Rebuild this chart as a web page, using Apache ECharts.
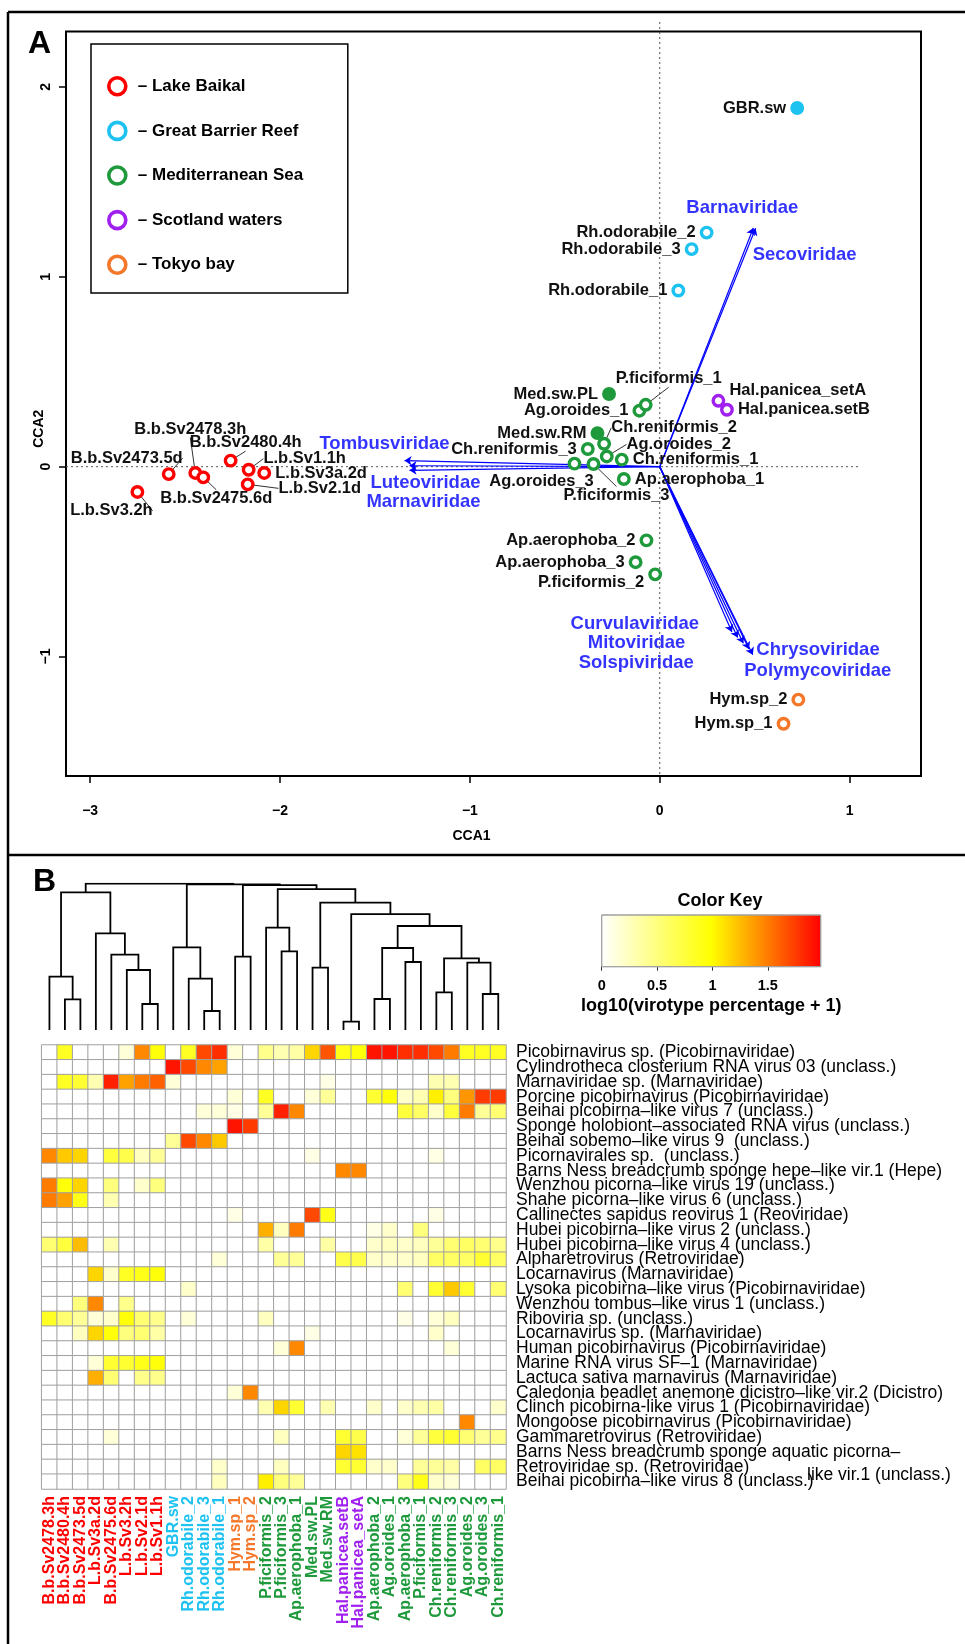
<!DOCTYPE html>
<html><head><meta charset="utf-8">
<script src="https://cdn.jsdelivr.net/npm/echarts@6/dist/echarts.min.js"></script>
<style>html,body{margin:0;padding:0;background:#fff}#c{width:965px;height:1644px}</style>
</head><body><div id="c"></div>
<script>
// ---------------- DATA ----------------
const siteNames = ['Lake Baikal','Great Barrier Reef','Mediterranean Sea','Scotland waters','Tokyo bay'];
const siteColors = ['#FF0000','#1DC2F0','#1E9A3C','#A020F0','#F5782A'];

// samples (same order as heatmap columns)
const sampleNames = ['B.b.Sv2478.3h','B.b.Sv2480.4h','B.b.Sv2473.5d','L.b.Sv3a.2d','B.b.Sv2475.6d','L.b.Sv3.2h','L.b.Sv2.1d','L.b.Sv1.1h','GBR.sw','Rh.odorabile_2','Rh.odorabile_3','Rh.odorabile_1','Hym.sp_1','Hym.sp_2','P.ficiformis_2','P.ficiformis_3','Ap.aerophoba_1','Med.sw.PL','Med.sw.RM','Hal.panicea.setB','Hal.panicea_setA','Ap.aerophoba_2','Ag.oroides_1','Ap.aerophoba_3','P.ficiformis_1','Ch.reniformis_2','Ch.reniformis_3','Ag.oroides_2','Ag.oroides_3','Ch.reniformis_1'];
const sampleSite = [0,0,0,0,0,0,0,0,1,1,1,1,4,4,2,2,2,2,2,3,3,2,2,2,2,2,2,2,2,2];
const sampleFilled = [0,0,0,0,0,0,0,0,1,0,0,0,0,0,0,0,0,1,1,0,0,0,0,0,0,0,0,0,0,0];
const sampleCCA1 = [-2.446,-2.260,-2.586,-2.083,-2.404,-2.751,-2.170,-2.165,0.724,0.247,0.168,0.098,0.652,0.730,-0.024,-0.349,-0.189,-0.267,-0.328,0.354,0.309,-0.070,-0.107,-0.127,-0.074,-0.293,-0.379,-0.279,-0.449,-0.200];
const sampleCCA2 = [-0.033,0.032,-0.039,-0.033,-0.056,-0.133,-0.093,-0.016,1.889,1.233,1.146,0.928,-1.354,-1.227,-0.567,0.014,-0.065,0.383,0.177,0.300,0.347,-0.388,0.295,-0.503,0.326,0.121,0.093,0.054,0.016,0.037];

// fitted family vectors
const familyNames = ['Barnaviridae','Secoviridae','Tombusviridae','Luteoviridae','Marnaviridae','Curvulaviridae','Mitoviridae','Solspiviridae','Chrysoviridae','Polymycoviridae'];
const familyCCA1 = [0.493,0.505,-1.344,-1.318,-1.318,0.380,0.410,0.440,0.470,0.490];
const familyCCA2 = [1.257,1.256,0.032,0.005,-0.019,-0.870,-0.900,-0.930,-0.960,-0.990];

const xTicksA = [-3,-2,-1,0,1];
const yTicksA = [-1,0,1,2];

// heatmap rows
const virusNames = [
 'Picobirnavirus sp. (Picobirnaviridae)',
 'Cylindrotheca closterium RNA virus 03 (unclass.)',
 'Marnaviridae sp. (Marnaviridae)',
 'Porcine picobirnavirus (Picobirnaviridae)',
 'Beihai picobirna\u2013like virus 7 (unclass.)',
 'Sponge holobiont\u2013associated RNA virus (unclass.)',
 'Beihai sobemo\u2013like virus 9  (unclass.)',
 'Picornavirales sp.  (unclass.)',
 'Barns Ness breadcrumb sponge hepe\u2013like vir.1 (Hepe)',
 'Wenzhou picorna\u2013like virus 19 (unclass.)',
 'Shahe picorna\u2013like virus 6 (unclass.)',
 'Callinectes sapidus reovirus 1 (Reoviridae)',
 'Hubei picobirna\u2013like virus 2 (unclass.)',
 'Hubei picobirna\u2013like virus 4 (unclass.)',
 'Alpharetrovirus (Retroviridae)',
 'Locarnavirus (Marnaviridae)',
 'Lysoka picobirna\u2013like virus (Picobirnaviridae)',
 'Wenzhou tombus\u2013like virus 1 (unclass.)',
 'Riboviria sp. (unclass.)',
 'Locarnavirus sp. (Marnaviridae)',
 'Human picobirnavirus (Picobirnaviridae)',
 'Marine RNA virus SF\u20131 (Marnaviridae)',
 'Lactuca sativa marnavirus (Marnaviridae)',
 'Caledonia beadlet anemone dicistro\u2013like vir.2 (Dicistro)',
 'Clinch picobirna-like virus 1 (Picobirnaviridae)',
 'Mongoose picobirnavirus (Picobirnaviridae)',
 'Gammaretrovirus (Retroviridae)',
 'Barns Ness breadcrumb sponge aquatic picorna\u2013\nlike vir.1 (unclass.)',
 'Retroviridae sp. (Retroviridae)',
 'Beihai picobirna\u2013like virus 8 (unclass.)'
];
// log10(virotype percentage + 1), one row per virus, columns as sampleNames
const heatRows = [
 [0,.85,0,0,0,.15,1.45,.95,0,.85,1.7,1.8,.15,0,.45,.3,.35,1.15,1.65,.9,.95,1.9,1.9,1.8,1.8,1.7,1.5,.85,.85,.85],
 [0,0,0,0,0,0,0,0,1.9,1.7,1.45,1.35,0,0,0,0,0,0,0,0,0,0,0,0,0,0,0,0,0,0],
 [0,.85,.8,.3,1.85,1.35,1.5,1.6,.15,0,0,0,0,0,0,0,0,0,.1,0,0,0,0,0,0,.3,.3,0,0,0],
 [0,0,0,0,0,0,0,0,0,0,0,0,.15,0,.85,0,0,.15,.4,0,0,.8,.95,.2,.3,1.05,.5,1.4,1.75,1.75],
 [0,0,0,0,0,0,0,0,0,0,.15,.15,.1,0,.4,1.85,1.45,0,0,0,0,0,0,.75,.6,.2,.75,1.5,.4,.55],
 [0,0,0,0,0,0,0,0,0,0,0,0,1.9,1.75,0,0,0,0,0,0,0,0,0,0,0,0,0,0,0,0],
 [0,0,0,0,0,0,0,0,.4,1.7,1.45,1.2,0,0,0,0,0,0,0,0,0,0,0,0,0,0,0,0,0,0],
 [1.45,1.2,1.15,0,.75,.7,.25,.4,0,0,0,0,0,0,0,0,0,.1,0,0,0,0,0,0,0,.1,0,0,0,0],
 [0,0,0,0,0,0,0,0,0,0,0,0,0,0,0,0,0,0,0,1.45,1.45,0,0,0,0,0,0,0,0,0],
 [1.5,.95,1.15,0,.5,0,.2,.5,0,0,0,0,0,0,0,0,0,0,0,0,0,0,0,0,0,0,0,0,0,0],
 [1.5,1.35,.9,0,.3,0,0,0,0,0,0,0,0,0,0,0,0,0,0,0,0,0,0,0,0,0,0,0,0,0],
 [0,0,0,0,0,0,0,0,0,0,0,0,.1,0,0,0,0,1.7,.9,0,0,0,0,0,0,.1,0,0,0,0],
 [0,0,0,0,0,0,0,0,0,0,0,0,0,0,1.3,.25,1.5,0,0,0,0,.1,.2,0,.5,0,0,0,0,0],
 [.55,.75,1.25,0,.3,0,0,0,0,0,0,0,0,0,.35,0,0,0,.35,0,0,.2,.25,.2,.25,.4,.55,.6,.55,.45],
 [0,0,0,0,0,0,0,0,0,0,0,.15,0,0,0,.4,.4,0,0,.7,.7,.2,.2,.2,.25,.6,.6,.6,.8,.6],
 [0,0,0,1.15,.2,.85,.9,.95,0,0,0,0,0,0,0,0,0,0,0,0,0,0,0,0,0,0,0,0,0,0],
 [0,0,0,0,0,0,0,0,0,.2,0,0,0,0,0,0,0,0,0,0,0,0,0,.55,0,.8,1.2,.8,0,.55],
 [0,0,.5,1.45,0,.45,0,0,0,0,0,0,0,0,0,0,0,0,0,0,0,0,0,0,0,0,0,0,0,0],
 [.85,.55,.4,.15,.2,.95,.55,.45,0,.15,0,0,0,0,.25,0,0,0,0,0,0,0,0,.1,0,.15,.25,0,0,0],
 [0,0,.25,1.15,.95,.5,.55,.35,0,0,0,0,0,0,0,0,0,.1,0,0,0,0,0,0,0,.2,0,0,0,0],
 [0,0,0,0,0,0,0,0,0,0,0,0,0,0,0,.15,1.45,0,0,0,0,0,0,0,0,0,.15,0,0,0],
 [0,0,0,.15,.8,.8,.9,.95,0,0,0,0,0,0,0,0,0,0,0,0,0,0,0,0,0,0,0,0,0,0],
 [0,0,0,1.3,.55,0,.45,.45,0,0,0,0,0,0,0,0,0,0,0,0,0,0,0,0,0,0,0,0,0,0],
 [0,0,0,0,0,0,0,0,0,0,0,0,.15,1.45,0,0,0,0,0,0,0,0,0,0,0,0,0,0,0,0],
 [0,0,0,0,0,0,0,0,0,0,0,0,0,0,.3,1.15,.8,0,.3,0,0,.2,0,.2,.3,.35,0,0,0,.2],
 [0,0,0,0,0,0,0,0,0,0,0,0,0,0,0,0,0,0,0,0,0,0,0,0,0,0,0,1.45,0,0],
 [0,0,0,0,.15,0,0,0,0,0,0,0,0,0,0,.25,0,0,0,.8,.7,0,0,.15,.4,.75,.8,.55,.4,.45],
 [0,0,0,0,0,0,0,0,0,0,0,0,0,0,0,0,0,0,0,1.15,1.1,0,0,0,0,0,0,0,0,0],
 [0,0,0,0,0,0,0,0,0,0,0,.2,0,0,0,.25,0,0,0,.8,.8,.2,.2,0,.4,.4,.35,0,.6,.6],
 [0,0,0,0,0,0,0,0,0,0,0,.25,0,0,1.05,.5,.4,0,0,0,0,0,0,.5,.9,.2,.15,0,0,0]
];

// column dendrogram, hclust-style merges: negative = leaf (column position), positive = earlier merge; third = height
const dendroMerges = [
 [-20,-21,25],[-11,-12,57],[-7,-8,78],[-2,-3,92],[-22,-23,93],[-29,-30,108],[-26,-27,113],
 [-10,2,154],[-1,4,160],[-6,3,180],[-18,-19,187],[-28,6,202],[-24,-25,204],[7,12,215],
 [-13,-14,220],[-5,10,226],[-16,-17,236],[5,13,246],[-9,8,248],[-4,16,290],[-15,17,307],
 [18,14,312],[1,22,348],[11,23,382],[9,20,413],[21,24,423],[15,26,435],[19,27,437],[25,28,439]
];

const keyMax = 1.978;
const keyColors = ['#FFFFFF','#FFFF00','#FF0000'];
const keyTicks = [0,0.5,1,1.5];

// ---------------- STYLE / LAYOUT ----------------
const FONT = '"Liberation Sans", Arial, Helvetica, sans-serif';
// label placement: [mode, dx, dy, leaderLine]
const labelPlace = {
 'B.b.Sv2478.3h':['C',-5,-44,1], 'B.b.Sv2480.4h':['C',15,-18,1], 'B.b.Sv2473.5d':['C',-42,-16,1],
 'L.b.Sv3a.2d':['R',0,0,0], 'B.b.Sv2475.6d':['C',13,21,1], 'L.b.Sv3.2h':['C',-26,19,1],
 'L.b.Sv2.1d':['C',72,4,1], 'L.b.Sv1.1h':['C',56,-11,1],
 'P.ficiformis_2':['L',0,8,0], 'P.ficiformis_3':['C',23,31,1], 'Ap.aerophoba_1':['R',0,0,0],
 'Hal.panicea.setB':['R',0,0,0], 'Hal.panicea_setA':['R',0,-10,0],
 'P.ficiformis_1':['C',23,-26,1], 'Ch.reniformis_2':['C',70,-16,1], 'Ag.oroides_2':['C',72,-12,1],
 'Ch.reniformis_1':['R',0,0,0], 'Ag.oroides_3':['C',-33,18,0]
};
const familyLabelOffset = {
 Barnaviridae:[-11,-20], Secoviridae:[49,27], Tombusviridae:[-20,-17], Luteoviridae:[16,17],
 Marnaviridae:[14,32], Curvulaviridae:[-97,-8], Mitoviridae:[-101,5], Solspiviridae:[-107,20],
 Chrysoviridae:[69,1], Polymycoviridae:[65,16]
};

const chart = echarts.init(document.getElementById('c'), null, {renderer:'canvas'});

// build per-site scatter series
const siteSeriesNames = siteNames.map(() => []);
const siteSeries = siteNames.map((s, si) => {
  const data = [];
  sampleNames.forEach((n, i) => {
    if (sampleSite[i] !== si) return;
    const pl = labelPlace[n] || ['L',0,0,0];
    const item = {name: n, value: [sampleCCA1[i], sampleCCA2[i]]};
    if (sampleFilled[i]) item.itemStyle = {color: siteColors[si]};
    if (pl[3]) item.labelLine = {show: true};
    siteSeriesNames[si].push(n);
    data.push(item);
  });
  return {
    type: 'scatter', name: s, xAxisIndex: 0, yAxisIndex: 0, z: 5,
    symbol: 'circle', symbolSize: 10.5,
    itemStyle: {color: '#FFFFFF', borderColor: siteColors[si], borderWidth: 3.4, opacity: 1},
    label: {show: true, formatter: '{b}', position: 'inside', color: '#111', fontWeight: 'bold', fontSize: 16.5, fontFamily: FONT},
    labelLine: {show: false, lineStyle: {color: '#333', width: 1}},
    labelLayout: function (p) {
      const n = siteSeriesNames[si][p.dataIndex];
      const pl = labelPlace[n] || ['L',0,0,0];
      const cx = p.rect.x + p.rect.width / 2, cy = p.rect.y + p.rect.height / 2;
      if (pl[0] === 'L') return {x: cx - 11, y: cy + pl[2], align: 'right', verticalAlign: 'middle'};
      if (pl[0] === 'R') return {x: cx + 11, y: cy + pl[2], align: 'left', verticalAlign: 'middle'};
      return {x: cx + pl[1], y: cy + pl[2], align: 'center', verticalAlign: 'middle'};
    },
    emphasis: {disabled: true},
    data: data
  };
});

// dendrogram segments
const nodeX = [], nodeH = [];
function childPos(c) { return c < 0 ? [-c - 0.5, 0] : [nodeX[c - 1], nodeH[c - 1]]; }
const dendroSegs = dendroMerges.map((m) => {
  const a = childPos(m[0]), b = childPos(m[1]);
  nodeX.push((a[0] + b[0]) / 2); nodeH.push(m[2]);
  return {coords: [[a[0], a[1]], [a[0], m[2]], [b[0], m[2]], [b[0], b[1]]]};
});

const heatData = [];
heatRows.forEach((row, r) => row.forEach((v, c) => heatData.push([c, r, v])));

const boldTxt = {fontFamily: FONT, fontWeight: 'bold', color: '#000'};

const option = {
  animation: false,
  backgroundColor: '#fff',
  title: {text: 'Color Key', left: 715, top: 887, textAlign: 'center',
          textStyle: {fontFamily: FONT, fontWeight: 'bold', fontSize: 18, color: '#000'}},
  legend: {
    data: siteNames, left: 91, top: 44, orient: 'vertical', selectedMode: false,
    padding: [32, 16, 18, 16], itemGap: 24, itemWidth: 17, itemHeight: 17,
    borderColor: '#000', borderWidth: 1.5, backgroundColor: '#fff',
    itemStyle: {borderWidth: 3.6},
    formatter: n => '\u2013 ' + n,
    textStyle: {fontFamily: FONT, fontWeight: 'bold', fontSize: 17, color: '#000', width: 194, lineHeight: 20, padding: [0,0,0,7]}
  },
  grid: [
    {left: 66, top: 31.5, width: 855, height: 744.5, show: true, borderColor: '#000', borderWidth: 2, backgroundColor: 'rgba(0,0,0,0)'},
    {left: 41.7, top: 883.7, width: 464.3, height: 146.3},
    {left: 41.7, top: 1045, width: 464.3, height: 444},
    {left: 601.7, top: 915, width: 219, height: 51.7}
  ],
  xAxis: [
    {type: 'value', gridIndex: 0, min: -3.127, max: 1.376,
     axisLine: {show: false, onZero: false}, splitLine: {show: false},
     axisTick: {show: true, customValues: xTicksA, length: 7, lineStyle: {color: '#000', width: 1.5}},
     axisLabel: {customValues: xTicksA, formatter: v => String(v).replace('-', '\u2212'), fontSize: 14, margin: 28, ...boldTxt},
     name: 'CCA1', nameLocation: 'middle', nameGap: 53, nameMoveOverlap: false,
     nameTextStyle: {fontSize: 14, padding: [0, 44, 0, 0], ...boldTxt}},
    {type: 'value', gridIndex: 1, min: 0, max: 30, show: false},
    {type: 'category', gridIndex: 2, data: sampleNames, position: 'bottom',
     axisLine: {show: false}, axisTick: {show: false}, splitLine: {show: false},
     axisLabel: {interval: 0, rotate: 90, margin: 7, fontSize: 16, fontFamily: FONT, fontWeight: 'bold',
                 color: (v, i) => siteColors[sampleSite[sampleNames.indexOf(v)]]}},
    {type: 'value', gridIndex: 3, min: 0, max: keyMax,
     axisLine: {show: false}, splitLine: {show: false},
     axisTick: {show: true, customValues: keyTicks, length: 4, lineStyle: {color: '#333', width: 1}},
     axisLabel: {customValues: keyTicks, formatter: v => String(v), fontSize: 14.5, margin: 12, ...boldTxt},
     name: 'log10(virotype percentage + 1)', nameLocation: 'middle', nameGap: 30, nameTextStyle: {fontSize: 18, ...boldTxt}}
  ],
  yAxis: [
    {type: 'value', gridIndex: 0, min: -1.629, max: 2.292,
     axisLine: {show: false, onZero: false}, splitLine: {show: false},
     axisTick: {show: true, customValues: yTicksA, length: 7, lineStyle: {color: '#000', width: 1.5}},
     axisLabel: {customValues: yTicksA, rotate: 90, formatter: v => String(v).replace('-', '\u2212'), fontSize: 14, margin: 13, ...boldTxt},
     name: 'CCA2', nameLocation: 'middle', nameGap: 20, nameMoveOverlap: false,
     nameTextStyle: {fontSize: 14, padding: [0, 50, 0, 0], ...boldTxt}},
    {type: 'value', gridIndex: 1, min: 0, max: 439, show: false},
    {type: 'category', gridIndex: 2, data: virusNames, inverse: true, position: 'right',
     axisLine: {show: false}, axisTick: {show: false}, splitLine: {show: false},
     axisLabel: {interval: 0, margin: 10, fontSize: 17.5, fontFamily: FONT, color: '#000',
                 formatter: v => v.split('\n')[0]}},
    {type: 'value', gridIndex: 3, min: 0, max: 1, show: false}
  ],
  visualMap: {type: 'continuous', show: false, min: 0, max: keyMax, seriesIndex: 8,
              inRange: {color: keyColors}},
  series: [
    ...siteSeries,
    {type: 'lines', coordinateSystem: 'cartesian2d', xAxisIndex: 0, yAxisIndex: 0, z: 3,
     symbol: ['none', 'arrow'], symbolSize: 7,
     lineStyle: {color: '#0000FF', width: 1.2, opacity: 1},
     data: familyNames.map((n, i) => ({name: n, coords: [[0, 0], [familyCCA1[i], familyCCA2[i]]]}))},
    {type: 'scatter', xAxisIndex: 0, yAxisIndex: 0, z: 6, symbolSize: 1,
     itemStyle: {color: 'rgba(0,0,0,0)'},
     label: {show: true, formatter: '{b}', position: 'inside', color: '#0000FF', fontWeight: 'bold', fontSize: 18.5, fontFamily: FONT},
     labelLayout: function (p) {
       const off = familyLabelOffset[familyNames[p.dataIndex]] || [0, 0];
       const cx = p.rect.x + p.rect.width / 2, cy = p.rect.y + p.rect.height / 2;
       return {x: cx + off[0], y: cy + off[1], align: 'center', verticalAlign: 'middle'};
     },
     emphasis: {disabled: true},
     data: familyNames.map((n, i) => ({name: n, value: [familyCCA1[i], familyCCA2[i]]}))},
    {type: 'lines', coordinateSystem: 'cartesian2d', xAxisIndex: 1, yAxisIndex: 1, polyline: true,
     lineStyle: {color: '#000', width: 1.8, opacity: 1}, data: dendroSegs},
    {type: 'heatmap', xAxisIndex: 2, yAxisIndex: 2, data: heatData,
     itemStyle: {borderColor: '#A0A0A0', borderWidth: 1}, emphasis: {disabled: true}},
    {type: 'custom', xAxisIndex: 3, yAxisIndex: 3, data: [[0, keyMax]],
     renderItem: function (params, api) {
       const p0 = api.coord([api.value(0), 0]);
       const p1 = api.coord([api.value(1), 1]);
       return {type: 'rect', shape: {x: p0[0], y: p1[1], width: p1[0] - p0[0], height: p0[1] - p1[1]},
               style: {fill: new echarts.graphic.LinearGradient(0, 0, 1, 0,
                         keyColors.map((c, k) => ({offset: k / (keyColors.length - 1), color: c}))),
                       stroke: '#A0A0A0', lineWidth: 1}};
     }}
  ]
};
chart.setOption(option);

// decorations derived from the axes
const o = chart.convertToPixel({gridIndex: 0}, [0, 0]);
const xEnd = chart.convertToPixel({gridIndex: 0}, [1.05, 0]);
const yBot = chart.convertToPixel({gridIndex: 0}, [0, -1.629]);
const r28 = chart.convertToPixel({gridIndex: 2}, [29, 28]);
const r29 = chart.convertToPixel({gridIndex: 2}, [29, 29]);
const frame = {stroke: '#000', lineWidth: 2.5};
chart.setOption({
  graphic: [
    {type: 'line', shape: {x1: 8, y1: 12, x2: 970, y2: 12}, style: frame},
    {type: 'line', shape: {x1: 8, y1: 12, x2: 8, y2: 1650}, style: frame},
    {type: 'line', shape: {x1: 8, y1: 855, x2: 970, y2: 855}, style: frame},
    {type: 'line', z: 1, shape: {x1: o[0], y1: 22, x2: o[0], y2: yBot[1]}, style: {stroke: '#555', lineWidth: 1, lineDash: [2, 3]}},
    {type: 'line', z: 1, shape: {x1: 66, y1: o[1], x2: xEnd[0], y2: o[1]}, style: {stroke: '#555', lineWidth: 1, lineDash: [2, 3]}},
    {type: 'text', left: 28, top: 28, style: {text: 'A', font: 'bold 32px ' + FONT, fill: '#000'}},
    {type: 'text', left: 33, top: 866, style: {text: 'B', font: 'bold 32px ' + FONT, fill: '#000'}},
    {type: 'text', x: 807, y: (r28[1] + r29[1]) / 2 + 1, style: {text: virusNames[27].split('\n')[1], font: '17.5px ' + FONT, fill: '#000', textVerticalAlign: 'middle'}}
  ]
});
</script></body></html>
